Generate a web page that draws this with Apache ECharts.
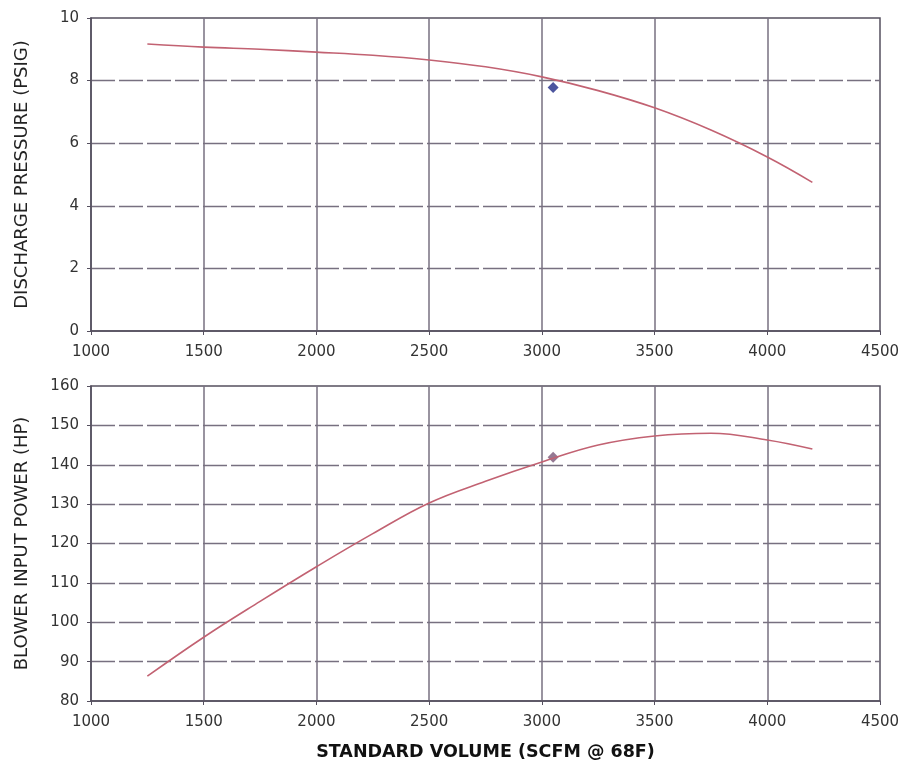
<!DOCTYPE html>
<html>
<head>
<meta charset="utf-8">
<script src="https://cdn.jsdelivr.net/npm/echarts@6/dist/echarts.min.js"></script>
<style>
html,body{margin:0;padding:0;background:#fff;}
#chart{width:907px;height:767px;}
</style>
</head>
<body>
<div id="chart"></div>
<script>
// flow values (SCFM) along the curves
var flow = [1250, 1500, 1750, 2000, 2250, 2500, 2750, 3000, 3250, 3500, 3750, 4000, 4200];
// discharge pressure (PSIG)
var pressure = [9.17, 9.07, 9.0, 8.91, 8.81, 8.66, 8.44, 8.12, 7.68, 7.13, 6.42, 5.56, 4.75];
// blower input power (HP)
var power = [86.3, 96.2, 105.3, 114.1, 122.5, 130.3, 135.8, 140.7, 145.0, 147.3, 148.0, 146.3, 144.0];
// operating point
var opFlow = [3050];
var opPressure = [7.78];
var opPower = [141.9];

function pairs(xs, ys){
	var out = [];
	for (var i = 0; i < xs.length; i++) out.push([xs[i], ys[i]]);
	return out;
}

var font = 'DejaVu Sans, Verdana, sans-serif';
var axisCol = '#55505f';
var gridCol = '#777080';
var textStyle = {fontFamily: font, color: '#333', fontSize: 15};

function xAx(idx, name){
	return {
		type: 'value', gridIndex: idx, min: 1000, max: 4500, interval: 500,
		axisLine: {onZero: false, lineStyle: {color: axisCol, width: 1.5}},
		axisTick: {show: true, length: 4, lineStyle: {color: axisCol}},
		axisLabel: Object.assign({margin: 14, formatter: function(v){ return String(v); }}, textStyle),
		splitLine: {show: true, showMinLine: false, showMaxLine: false, lineStyle: {color: gridCol, width: 1.5}},
		name: name || '', nameLocation: 'middle', nameGap: 42,
		nameTextStyle: {fontFamily: font, fontWeight: 'bold', fontSize: 17.5, color: '#111'}
	};
}
function yAx(idx, min, max, step, name){
	return {
		type: 'value', gridIndex: idx, min: min, max: max, interval: step,
		axisLine: {show: true, lineStyle: {color: axisCol, width: 1.5}},
		axisTick: {show: true, length: 4, lineStyle: {color: axisCol}},
		axisLabel: Object.assign({margin: 12}, textStyle),
		splitLine: {show: true, showMinLine: false, showMaxLine: false, lineStyle: {color: gridCol, width: 1.3, type: [24, 4]}},
		name: name, nameLocation: 'middle', nameRotate: 90, nameGap: 60,
		nameTextStyle: {fontFamily: font, fontSize: 18, color: '#222'}
	};
}

var myChart = echarts.init(document.getElementById('chart'));
var option = {
	backgroundColor: '#fff',
	animation: false,
	grid: [
		{left: 91, right: 27, top: 18, height: 313, show: true, borderColor: axisCol, borderWidth: 1.5},
		{left: 91, right: 27, top: 386, height: 315, show: true, borderColor: axisCol, borderWidth: 1.5}
	],
	xAxis: [xAx(0), xAx(1, 'STANDARD VOLUME (SCFM @ 68F)')],
	yAxis: [
		yAx(0, 0, 10, 2, 'DISCHARGE PRESSURE (PSIG)'),
		yAx(1, 80, 160, 10, 'BLOWER INPUT POWER (HP)')
	],
	series: [
		{
			type: 'line', xAxisIndex: 0, yAxisIndex: 0, smooth: 0.4, showSymbol: false,
			lineStyle: {color: '#c26272', width: 1.6},
			data: pairs(flow, pressure)
		},
		{
			type: 'line', xAxisIndex: 1, yAxisIndex: 1, smooth: 0.4, showSymbol: false,
			lineStyle: {color: '#c26272', width: 1.6},
			data: pairs(flow, power)
		},
		{
			type: 'scatter', xAxisIndex: 0, yAxisIndex: 0, symbol: 'diamond', symbolSize: 11,
			itemStyle: {color: '#1f2a86'},
			data: pairs(opFlow, opPressure)
		},
		{
			type: 'scatter', xAxisIndex: 1, yAxisIndex: 1, symbol: 'diamond', symbolSize: 11,
			itemStyle: {color: '#7a5878'},
			data: pairs(opFlow, opPower)
		}
	]
};
myChart.setOption(option);
</script>
</body>
</html>
